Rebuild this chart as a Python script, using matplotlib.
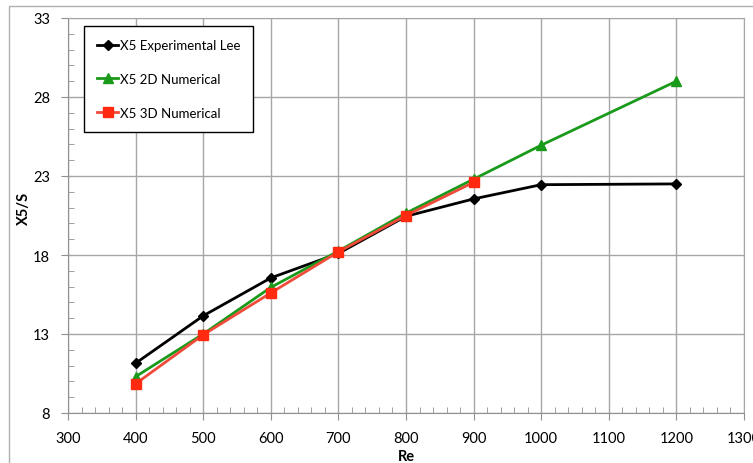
import numpy as np
import matplotlib.pyplot as plt
from matplotlib.ticker import MultipleLocator, FixedLocator
from matplotlib.patches import Rectangle

plt.rcParams['font.family'] = ['Lato', 'DejaVu Sans']

# Reynolds numbers and reattachment length X5/S
re_exp = [400, 500, 600, 700, 800, 900, 1000, 1200]
x5_exp = [11.15, 14.15, 16.55, 18.1, 20.45, 21.55, 22.45, 22.5]

re_2d = [400, 500, 600, 700, 800, 900, 1000, 1200]
x5_2d = [10.3, 13.0, 15.95, 18.25, 20.65, 22.8, 24.95, 29.0]

re_3d = [400, 500, 600, 700, 800, 900]
x5_3d = [9.85, 12.95, 15.6, 18.2, 20.5, 22.6]

y_ticks = [8, 13, 18, 23, 28, 33]

fig = plt.figure(figsize=(7.53, 4.64), dpi=100)
ax = fig.add_axes([68/753, 1-414/464, 676/753, 395/464])

# outer chart frame
fig.patches.append(Rectangle((9/753, -0.05), 1.0, 1-7/464+0.05, transform=fig.transFigure,
                             fill=False, edgecolor='#b0b0b0', linewidth=1.0))

ax.plot(re_exp, x5_exp, color='black', lw=2, marker='D', ms=5, label='X5 Experimental Lee')
ax.plot(re_2d, x5_2d, color='#1a9a1a', lw=2, marker='^', ms=7, label='X5 2D Numerical')
ax.plot(re_3d, x5_3d, color='#f04a3a', lw=2, marker='s', ms=7, mfc='#ff2a10', mec='#ff2a10',
        label='X5 3D Numerical')

ax.set_xlim(300, 1300)
ax.set_ylim(8, 33)
ax.xaxis.set_major_locator(MultipleLocator(100))
ax.xaxis.set_minor_locator(MultipleLocator(20))
ax.yaxis.set_major_locator(FixedLocator(y_ticks))
ax.yaxis.set_minor_locator(MultipleLocator(1))
ax.grid(True, which='major', color='#a6a6a6', lw=1)
ax.set_axisbelow(True)

for s in ['top', 'right']:
    ax.spines[s].set_color('#a6a6a6')
for s in ['left', 'bottom']:
    ax.spines[s].set_color('#909090')
ax.tick_params(which='major', direction='out', length=5, color='#909090', labelsize=10.5, pad=8)
ax.tick_params(which='minor', direction='in', length=4, color='#909090')

ax.set_xlabel('Re', fontsize=10.5, fontweight='bold', labelpad=2.5)
ax.set_ylabel('X5/S', fontsize=10.5, fontweight='bold')
ax.yaxis.set_label_coords(-0.055, 0.52)

leg = ax.legend(loc='upper left', bbox_to_anchor=(16/676, 1-8/395), fontsize=9.5,
                fancybox=False, edgecolor='black', framealpha=1, labelspacing=1.65,
                handlelength=1.6, handletextpad=0.1, borderpad=1.0, borderaxespad=0)
leg.get_frame().set_linewidth(1.0)

fig.savefig('out.png', dpi=100)
